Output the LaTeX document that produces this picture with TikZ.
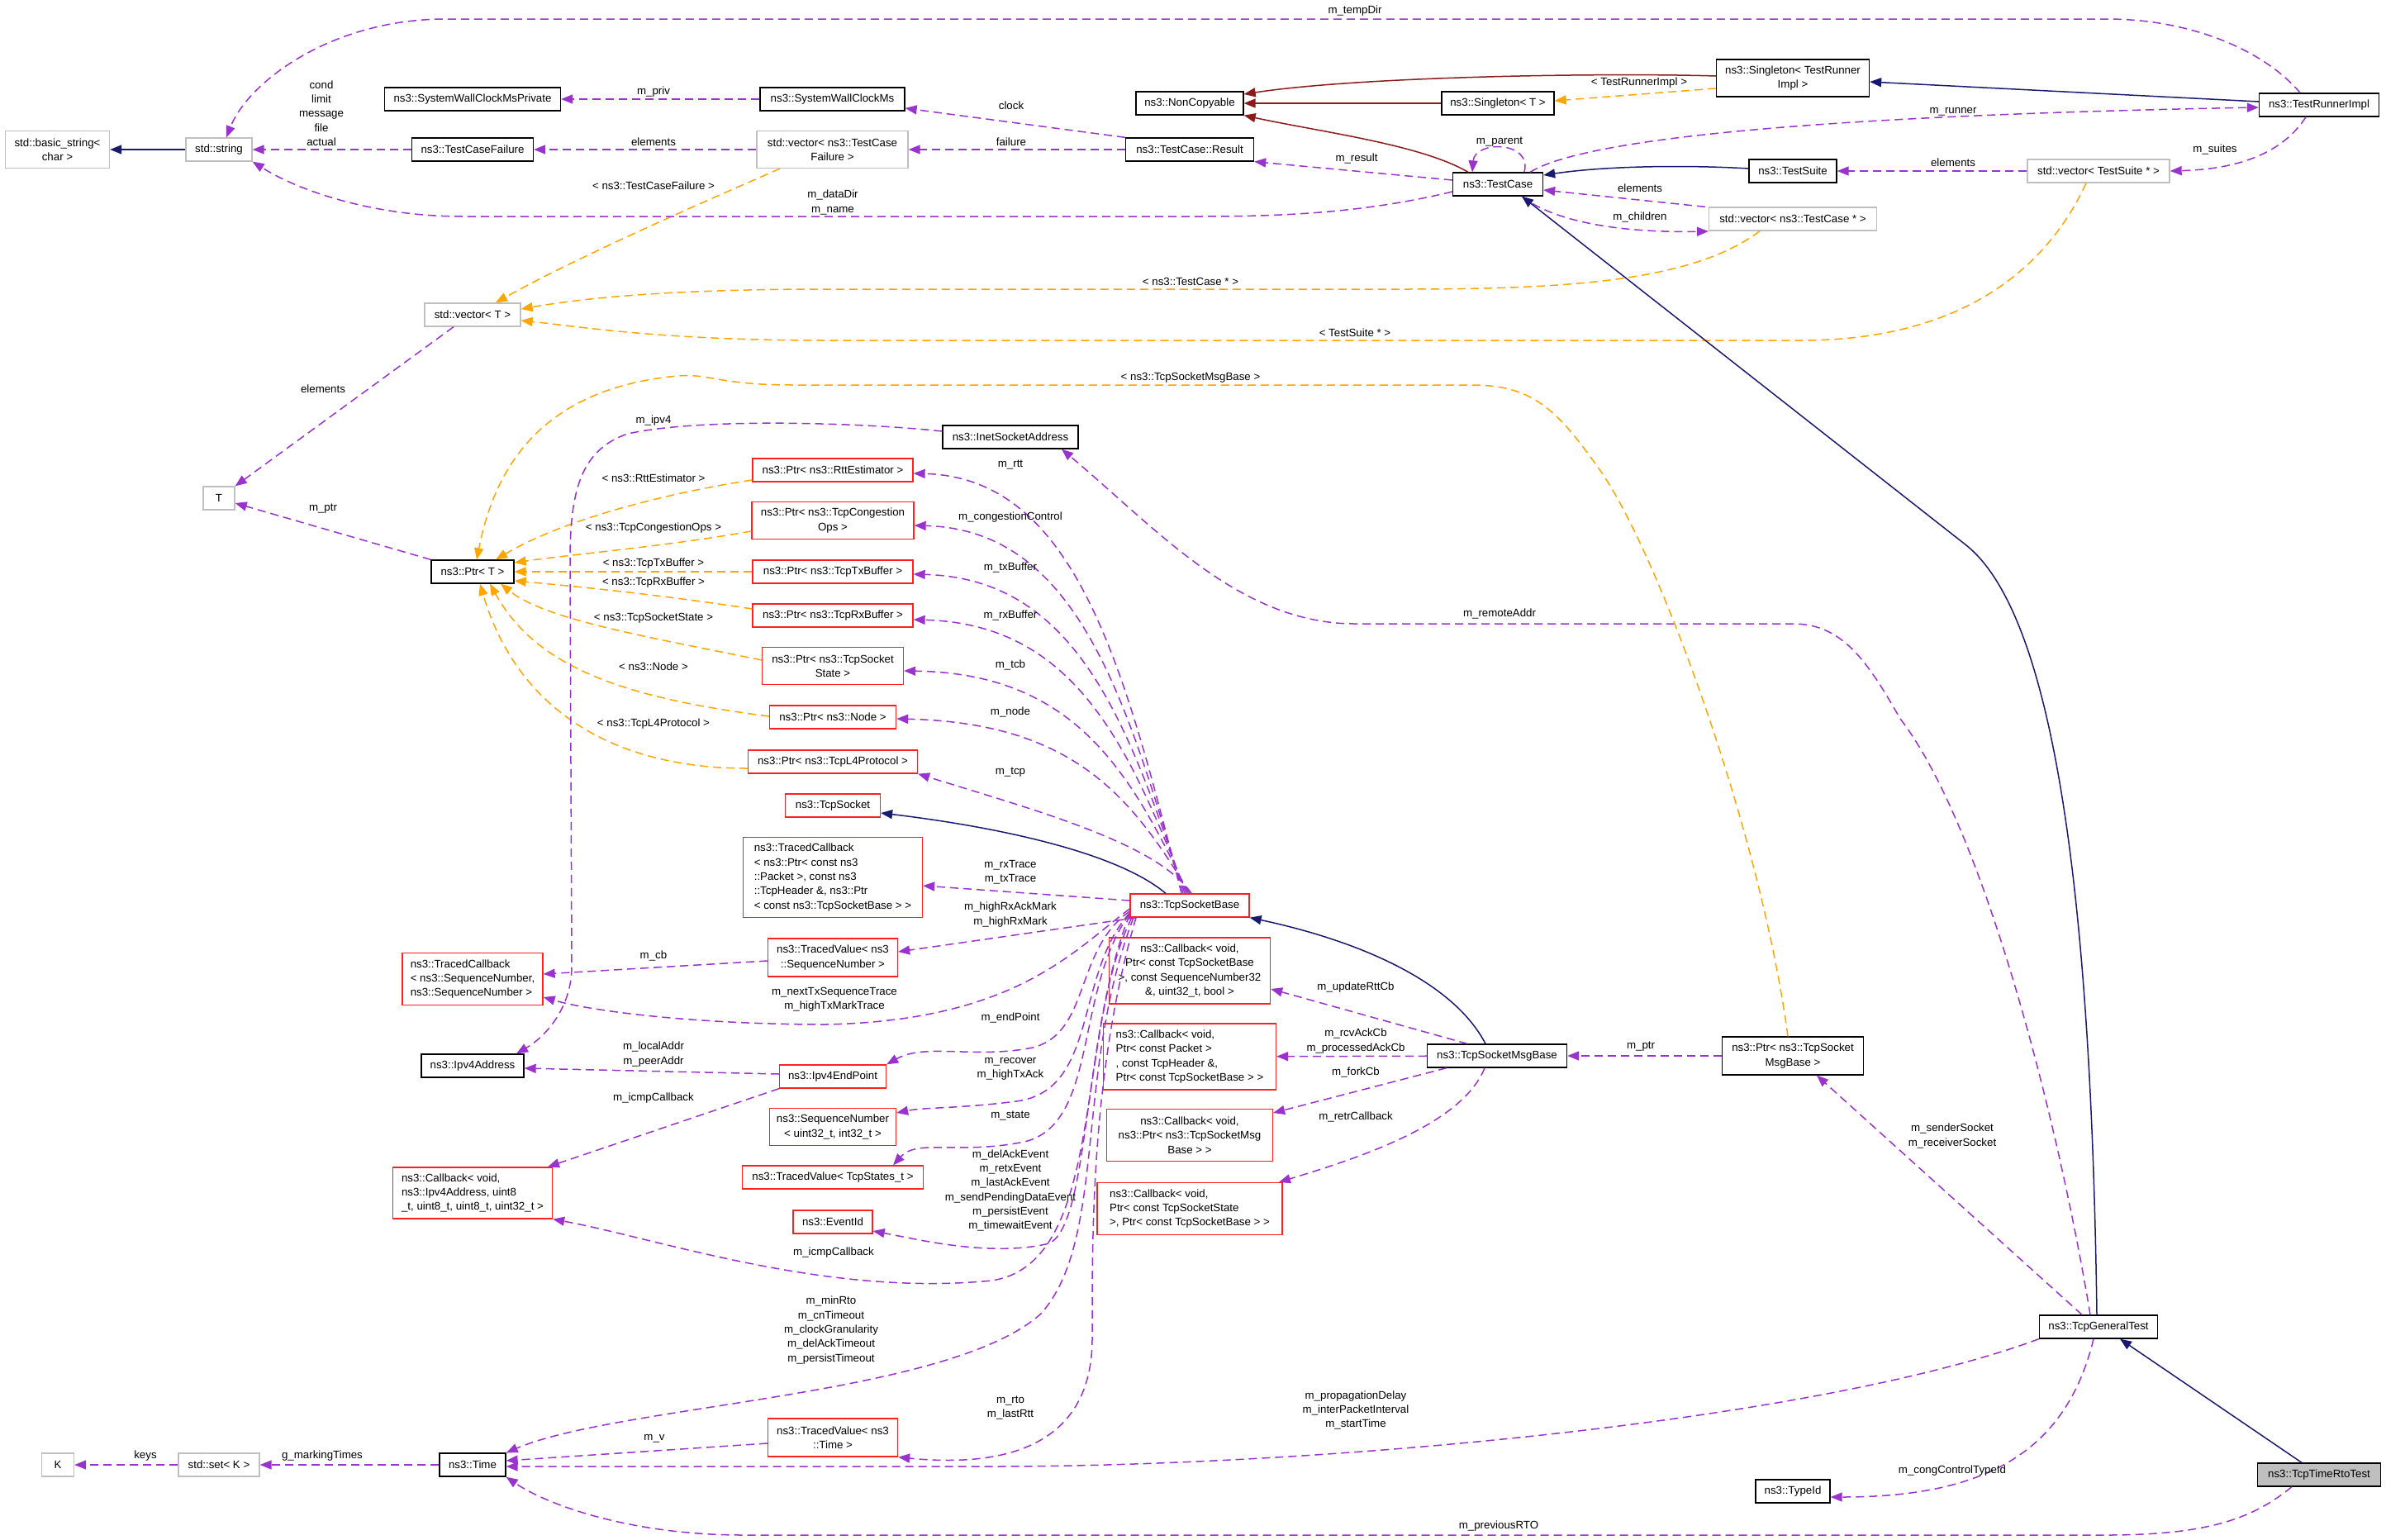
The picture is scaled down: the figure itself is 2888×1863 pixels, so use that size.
\documentclass[tikz,border=0pt]{standalone}
\usepackage{fontspec}
\setmainfont{Liberation Sans}
\usetikzlibrary{arrows.meta}
\definecolor{purp}{HTML}{9A32CD}
\definecolor{orng}{HTML}{FFA500}
\definecolor{mblue}{HTML}{191970}
\definecolor{fbrick}{HTML}{8B1A1A}
\definecolor{gbord}{HTML}{BFBFBF}
\definecolor{rbord}{HTML}{FF2020}
\begin{document}
\begin{tikzpicture}[x=1pt,y=-1pt,font=\fontsize{13.3pt}{17.3pt}\selectfont,
  box/.style={draw, fill=white, line width=1.3pt, inner sep=2pt, align=center},
  blk/.style={box, draw=black},
  gry/.style={box, draw=gbord},
  rd/.style={box, draw=rbord},
  lbl/.style={inner sep=0pt, align=center},
  tip/.style={-{Triangle[length=14pt,width=11pt]}},
  pe/.style={draw=purp, line width=1.5pt, dash pattern=on 10pt off 6pt, tip},
  oe/.style={draw=orng, line width=1.5pt, dash pattern=on 10pt off 6pt, tip},
  be/.style={draw=mblue, line width=1.5pt, tip},
  re/.style={draw=fbrick, line width=1.5pt, tip}]
\useasboundingbox (0,0) rectangle (2888,1863);
\fill[white] (0,0) rectangle (2888,1863);

% ---------- nodes ----------
\node[gry, minimum width=126pt, minimum height=45pt] (n_bs) at (69.5,181) {std::basic\_string\textless\\char \textgreater};
\node[gry, minimum width=80pt, minimum height=28pt] (n_str) at (265,181) {std::string};
\node[blk, minimum width=213pt, minimum height=28pt] (n_swcp) at (572,120) {ns3::SystemWallClockMsPrivate};
\node[blk, minimum width=147pt, minimum height=28pt] (n_tcf) at (572,181) {ns3::TestCaseFailure};
\node[gry, minimum width=183pt, minimum height=45pt] (n_vtcf) at (1007.5,181) {std::vector\textless{} ns3::TestCase\\Failure \textgreater};
\node[blk, minimum width=175pt, minimum height=28pt] (n_swc) at (1007.5,120) {ns3::SystemWallClockMs};
\node[blk, minimum width=130pt, minimum height=28pt] (n_nc) at (1440,125) {ns3::NonCopyable};
\node[blk, minimum width=136pt, minimum height=28pt] (n_sgt) at (1813,125) {ns3::Singleton\textless{} T \textgreater};
\node[blk, minimum width=155pt, minimum height=28pt] (n_res) at (1440,181) {ns3::TestCase::Result};
\node[blk, minimum width=109pt, minimum height=28pt] (n_tc) at (1813,223) {ns3::TestCase};
\node[blk, minimum width=185pt, minimum height=45pt] (n_sgtr) at (2170,94.5) {ns3::Singleton\textless{} TestRunner\\Impl \textgreater};
\node[blk, minimum width=145pt, minimum height=28pt] (n_tri) at (2807,127) {ns3::TestRunnerImpl};
\node[blk, minimum width=106pt, minimum height=28pt] (n_ts) at (2170,207) {ns3::TestSuite};
\node[gry, minimum width=172pt, minimum height=28pt] (n_vts) at (2540,207) {std::vector\textless{} TestSuite * \textgreater};
\node[gry, minimum width=203pt, minimum height=28pt] (n_vtc) at (2170,265) {std::vector\textless{} ns3::TestCase * \textgreater};
\node[gry, minimum width=116pt, minimum height=28pt] (n_vt) at (572,381) {std::vector\textless{} T \textgreater};
\node[gry, minimum width=38pt, minimum height=28pt] (n_T) at (265,603) {T};
\node[blk, minimum width=100pt, minimum height=28pt] (n_ptrT) at (572,692) {ns3::Ptr\textless{} T \textgreater};
\node[blk, minimum width=164pt, minimum height=28pt] (n_inet) at (1223,529) {ns3::InetSocketAddress};
\node[rd, minimum width=194pt, minimum height=28pt] (n_prtt) at (1008,569) {ns3::Ptr\textless{} ns3::RttEstimator \textgreater};
\node[rd, minimum width=196pt, minimum height=45pt] (n_pcong) at (1008,630) {ns3::Ptr\textless{} ns3::TcpCongestion\\Ops \textgreater};
\node[rd, minimum width=194pt, minimum height=28pt] (n_ptx) at (1008,692) {ns3::Ptr\textless{} ns3::TcpTxBuffer \textgreater};
\node[rd, minimum width=194pt, minimum height=28pt] (n_prx) at (1008,745) {ns3::Ptr\textless{} ns3::TcpRxBuffer \textgreater};
\node[rd, minimum width=171pt, minimum height=45pt] (n_ptcb) at (1008,806) {ns3::Ptr\textless{} ns3::TcpSocket\\State \textgreater};
\node[rd, minimum width=153pt, minimum height=28pt] (n_pnode) at (1008,868) {ns3::Ptr\textless{} ns3::Node \textgreater};
\node[rd, minimum width=205pt, minimum height=28pt] (n_pl4) at (1008,922) {ns3::Ptr\textless{} ns3::TcpL4Protocol \textgreater};
\node[rd, minimum width=115pt, minimum height=28pt] (n_tsock) at (1008,975) {ns3::TcpSocket};
\node[rd, minimum width=217pt, minimum height=97pt, align=left] (n_tcbk) at (1008,1062) {ns3::TracedCallback\\\textless{} ns3::Ptr\textless{} const ns3\\::Packet \textgreater, const ns3\\::TcpHeader \&, ns3::Ptr\\\textless{} const ns3::TcpSocketBase \textgreater{} \textgreater};
\node[rd, minimum width=144pt, minimum height=28pt] (n_tsb) at (1440,1096) {ns3::TcpSocketBase};
\node[rd, minimum width=157pt, minimum height=46pt] (n_tvsn) at (1008,1159) {ns3::TracedValue\textless{} ns3\\::SequenceNumber \textgreater};
\node[rd, minimum width=170pt, minimum height=63pt, align=left] (n_tcsn) at (572,1185) {ns3::TracedCallback\\\textless{} ns3::SequenceNumber,\\ ns3::SequenceNumber \textgreater};
\node[rd, minimum width=195pt, minimum height=80pt] (n_cbrtt) at (1440,1175) {ns3::Callback\textless{} void,\\ Ptr\textless{} const TcpSocketBase\\ \textgreater, const SequenceNumber32\\\&, uint32\_t, bool \textgreater};
\node[blk, minimum width=124pt, minimum height=28pt] (n_ipv4) at (572,1290) {ns3::Ipv4Address};
\node[rd, minimum width=129pt, minimum height=28pt] (n_ep) at (1008,1303) {ns3::Ipv4EndPoint};
\node[rd, minimum width=209pt, minimum height=80pt, align=left] (n_cback) at (1440,1279) {ns3::Callback\textless{} void,\\ Ptr\textless{} const Packet \textgreater\\, const TcpHeader \&,\\ Ptr\textless{} const TcpSocketBase \textgreater{} \textgreater};
\node[blk, minimum width=169pt, minimum height=28pt] (n_tsmb) at (1812,1278) {ns3::TcpSocketMsgBase};
\node[blk, minimum width=171pt, minimum height=46pt] (n_pmsg) at (2170,1278) {ns3::Ptr\textless{} ns3::TcpSocket\\MsgBase \textgreater};
\node[rd, minimum width=153pt, minimum height=45pt] (n_seq) at (1008,1364) {ns3::SequenceNumber\\\textless{} uint32\_t, int32\_t \textgreater};
\node[rd, minimum width=201pt, minimum height=63pt] (n_cbfork) at (1440,1374) {ns3::Callback\textless{} void,\\ ns3::Ptr\textless{} ns3::TcpSocketMsg\\Base \textgreater{} \textgreater};
\node[rd, minimum width=193pt, minimum height=62pt, align=left] (n_cbicmp) at (572,1444) {ns3::Callback\textless{} void,\\ ns3::Ipv4Address, uint8\\\_t, uint8\_t, uint8\_t, uint32\_t \textgreater};
\node[rd, minimum width=219pt, minimum height=28pt] (n_tvst) at (1008,1425) {ns3::TracedValue\textless{} TcpStates\_t \textgreater};
\node[rd, minimum width=224pt, minimum height=63pt, align=left] (n_cbretr) at (1440,1463) {ns3::Callback\textless{} void,\\ Ptr\textless{} const TcpSocketState\\ \textgreater, Ptr\textless{} const TcpSocketBase \textgreater{} \textgreater};
\node[rd, minimum width=96pt, minimum height=28pt] (n_evt) at (1008,1479) {ns3::EventId};
\node[rd, minimum width=157pt, minimum height=46pt] (n_tvtime) at (1008,1740) {ns3::TracedValue\textless{} ns3\\::Time \textgreater};
\node[blk, minimum width=80pt, minimum height=28pt] (n_time) at (572,1773) {ns3::Time};
\node[gry, minimum width=98pt, minimum height=28pt] (n_set) at (265,1773) {std::set\textless{} K \textgreater};
\node[gry, minimum width=39pt, minimum height=28pt] (n_K) at (70,1773) {K};
\node[blk, minimum width=143pt, minimum height=28pt] (n_gt) at (2540,1606) {ns3::TcpGeneralTest};
\node[blk, minimum width=90pt, minimum height=28pt] (n_tid) at (2170,1805) {ns3::TypeId};
\node[blk, fill=gbord, minimum width=149pt, minimum height=28pt] (n_rto) at (2807,1785) {ns3::TcpTimeRtoTest};

% ---------- edges ----------
\draw[be] (n_str) -- (n_bs);
\draw[pe] (n_tcf) -- (n_str);
\draw[pe] (n_swc) -- (n_swcp);
\draw[pe] (n_vtcf) -- (n_tcf);
\draw[oe] (944,0 |- n_vtcf.south) .. controls (880,232) and (700,310) .. (600,0 |- n_vt.north);
\draw[pe] (n_tc.west |- 0,232) .. controls (1650,258) and (1550,262) .. (1450,262) -- (560,262) .. controls (450,262) and (360,230) .. (n_str.south east);
\draw[pe] (2784,0 |- n_tri.north) .. controls (2740,60) and (2650,23) .. (2550,23) -- (540,23) .. controls (400,23) and (300,100) .. (274,0 |- n_str.north);
\draw[pe] (n_res.north west) -- (n_swc.east |- 0,131);
\draw[pe] (n_res) -- (n_vtcf);
\draw[pe] (n_tc.west |- 0,218) -- (n_res.south east);
\draw[re] (1777,0 |- n_tc.north) .. controls (1720,175) and (1600,160) .. (n_nc.south east);
\draw[re] (n_sgt) -- (n_nc);
\draw[re] (n_sgtr.west |- 0,92) .. controls (1950,88) and (1650,92) .. (n_nc.east |- 0,114);
\draw[oe] (n_sgtr.west |- 0,107) -- (n_sgt.east |- 0,122);
\draw[be] (n_tri.west |- 0,123) -- (n_sgtr.east |- 0,99);
\draw[pe] (1852,0 |- n_tc.north) .. controls (1930,160) and (2300,138) .. (n_tri.west |- 0,130);
\draw[pe] (1845,0 |- n_tc.north) .. controls (1855,170) and (1785,170) .. (1782,0 |- n_tc.north);
\draw[be] (n_ts.west |- 0,204) .. controls (2050,200) and (1950,200) .. (n_tc.east |- 0,212);
\draw[pe] (n_vts) -- (n_ts);
\draw[pe] (2791,0 |- n_tri.south) .. controls (2760,190) and (2700,205) .. (n_vts.east);
\draw[pe] (2064,0 |- n_vtc.north) -- (n_tc.east |- 0,230);
\draw[pe] (1842,0 |- n_tc.south) .. controls (1880,268) and (1960,282) .. (n_vtc.west |- 0,280);
\draw[oe] (2130,0 |- n_vtc.south) .. controls (2050,340) and (1900,350) .. (1700,350) -- (1000,350) .. controls (800,350) and (700,362) .. (n_vt.east |- 0,374);
\draw[oe] (2525,0 |- n_vts.south) .. controls (2480,320) and (2380,412) .. (2180,412) -- (1000,412) .. controls (800,412) and (700,395) .. (n_vt.east |- 0,388);
\draw[pe] (549,0 |- n_vt.south) -- (n_T.north east);
\draw[pe] (n_ptrT.north west) -- (n_T.east |- 0,609);
\draw[be] (2538,0 |- n_gt.north) .. controls (2532,1150) and (2497,754) .. (2380,660) -- (1842,0 |- n_tc.south);
\draw[be] (2786,0 |- n_rto.north) -- (2566,0 |- n_gt.south);
\draw[pe] (2774,0 |- n_rto.south) .. controls (2730,1835) and (2680,1858) .. (2550,1858) -- (900,1858) .. controls (760,1858) and (660,1820) .. (n_time.south east);
\draw[pe] (2534,0 |- n_gt.south) .. controls (2500,1760) and (2400,1812) .. (n_tid.east |- 0,1812);
\draw[pe] (2520,0 |- n_gt.north) -- (2199,0 |- n_pmsg.south);
\draw[pe] (2530,0 |- n_gt.north) .. controls (2490,1350) and (2400,1000) .. (2300,870) .. controls (2260,800) and (2230,755) .. (2170,755) -- (1640,755) .. controls (1500,755) and (1400,640) .. (1285,0 |- n_inet.south);
\draw[oe] (2164,0 |- n_pmsg.north) .. controls (2130,1000) and (2000,650) .. (1930,560) .. controls (1880,490) and (1850,466) .. (1780,466) -- (960,466) .. controls (870,466) and (860,452) .. (820,455) .. controls (660,470) and (600,560) .. (577,0 |- n_ptrT.north);
% template instances of Ptr<T>
\draw[oe] (n_prtt.west |- 0,581) .. controls (800,598) and (680,630) .. (600,0 |- n_ptrT.north);
\draw[oe] (n_pcong.west |- 0,643) .. controls (800,662) and (700,670) .. (n_ptrT.east |- 0,681);
\draw[oe] (n_ptx.west) -- (n_ptrT.east);
\draw[oe] (n_prx.west |- 0,737) .. controls (800,720) and (700,710) .. (n_ptrT.east |- 0,703);
\draw[oe] (n_ptcb.west |- 0,799) .. controls (780,770) and (660,750) .. (606,0 |- n_ptrT.south);
\draw[oe] (n_pnode.west |- 0,867) .. controls (760,845) and (650,810) .. (593,0 |- n_ptrT.south);
\draw[oe] (n_pl4.west |- 0,930) .. controls (720,930) and (620,840) .. (581,0 |- n_ptrT.south);
\draw[be] (1798,0 |- n_tsmb.north) .. controls (1760,1190) and (1650,1140) .. (n_tsb.south east);
\draw[pe] (n_pmsg) -- (n_tsmb);
\draw[pe] (1776,0 |- n_tsmb.north) -- (n_cbrtt.east |- 0,1197);
\draw[pe] (n_tsmb) -- (n_cback);
\draw[pe] (1751,0 |- n_tsmb.south) -- (n_cbfork.east |- 0,1347);
\draw[pe] (1797,0 |- n_tsmb.south) .. controls (1770,1360) and (1650,1400) .. (1548,0 |- n_cbretr.north);
\draw[be] (1411,0 |- n_tsb.north) .. controls (1350,1030) and (1200,1000) .. (n_tsock.east |- 0,984);
\draw[pe] (n_inet.west |- 0,522) .. controls (1050,512) and (850,505) .. (760,525) .. controls (700,545) and (690,600) .. (690,680) -- (692,1170) .. controls (692,1220) and (660,1255) .. (625,0 |- n_ipv4.north);
% bundle from TcpSocketBase top
\draw[pe] (1430,0 |- n_tsb.north) .. controls (1360,802) and (1300,578) .. (n_prtt.east |- 0,573);
\draw[pe] (1432,0 |- n_tsb.north) .. controls (1362,837) and (1300,641) .. (n_pcong.east |- 0,636);
\draw[pe] (1434,0 |- n_tsb.north) .. controls (1364,869) and (1300,700) .. (n_ptx.east |- 0,695);
\draw[pe] (1436,0 |- n_tsb.north) .. controls (1366,901) and (1300,755) .. (n_prx.east |- 0,750);
\draw[pe] (1438,0 |- n_tsb.north) .. controls (1368,933) and (1300,815) .. (n_ptcb.east |- 0,812);
\draw[pe] (1440,0 |- n_tsb.north) .. controls (1370,965) and (1300,875) .. (n_pnode.east |- 0,870);
\draw[pe] (1442,0 |- n_tsb.north) .. controls (1400,1020) and (1250,980) .. (n_pl4.south east);
% from TcpSocketBase left / bottom
\draw[pe] (n_tsb.west |- 0,1090) -- (n_tcbk.east |- 0,1072);
\draw[pe] (1376,0 |- n_tsb.south) -- (n_tvsn.east |- 0,1152);
\draw[pe] (n_tsb.west |- 0,1100) .. controls (1300,1150) and (1230,1235) .. (1000,1240) .. controls (850,1240) and (720,1225) .. (n_tcsn.east |- 0,1207);
\draw[pe] (n_tvsn.west |- 0,1163) -- (n_tcsn.east |- 0,1179);
\draw[pe] (n_tsb.west |- 0,1103) .. controls (1300,1150) and (1320,1250) .. (1250,1268) .. controls (1180,1282) and (1120,1262) .. (n_ep.north east);
\draw[pe] (n_ep.west |- 0,1300) -- (n_ipv4.east |- 0,1293);
\draw[pe] (n_ep.south west) -- (663,0 |- n_cbicmp.north);
\draw[pe] (n_tsb.west |- 0,1105) .. controls (1300,1180) and (1330,1320) .. (1230,1333) .. controls (1160,1342) and (1120,1340) .. (n_seq.east |- 0,1347);
\draw[pe] (n_tsb.west |- 0,1106) .. controls (1300,1200) and (1330,1360) .. (1240,1382) .. controls (1160,1398) and (1110,1378) .. (1081,0 |- n_tvst.north);
\draw[pe] (n_tsb.west |- 0,1107) .. controls (1310,1250) and (1320,1480) .. (1270,1505) .. controls (1200,1522) and (1110,1500) .. (n_evt.east |- 0,1490);
\draw[pe] (1370,0 |- n_tsb.south) .. controls (1300,1250) and (1340,1530) .. (1200,1550) .. controls (1000,1570) and (800,1500) .. (n_cbicmp.south east);
\draw[pe] (1372,0 |- n_tsb.south) .. controls (1300,1300) and (1340,1500) .. (1260,1590) .. controls (1150,1690) and (750,1700) .. (n_time.north east);
\draw[pe] (1375,0 |- n_tsb.south) .. controls (1320,1300) and (1322,1500) .. (1322,1620) .. controls (1322,1760) and (1200,1775) .. (n_tvtime.south east);
\draw[pe] (n_tvtime.west |- 0,1747) -- (n_time.east |- 0,1768);
\draw[pe] (n_gt.south west) .. controls (2200,1720) and (1600,1775) .. (1200,1775) -- (n_time.east |- 0,1775);
\draw[pe] (n_time) -- (n_set);
\draw[pe] (n_set) -- (n_K);

% ---------- labels ----------
\node[lbl] (l1) at (389,137) {cond\\limit\\message\\file\\actual};
\node[lbl] (l2) at (791,111) {m\_priv};
\node[lbl] (l3) at (791,172) {elements};
\node[lbl] (l4) at (791,225) {\textless{} ns3::TestCaseFailure \textgreater};
\node[lbl] (l5) at (1640,13) {m\_tempDir};
\node[lbl] (l6) at (1224,128) {clock};
\node[lbl] (l7) at (1224,172) {failure};
\node[lbl] (l8) at (1642,192) {m\_result};
\node[lbl] (l9) at (1815,172) {m\_parent};
\node[lbl] (l10) at (1008,245) {m\_dataDir\\m\_name};
\node[lbl] (l11) at (1441,341) {\textless{} ns3::TestCase * \textgreater};
\node[lbl] (l12) at (1640,403) {\textless{} TestSuite * \textgreater};
\node[lbl] (l13) at (1441,457) {\textless{} ns3::TcpSocketMsgBase \textgreater};
\node[lbl] (l14) at (1984,100) {\textless{} TestRunnerImpl \textgreater};
\node[lbl] (l15) at (2364,135) {m\_runner};
\node[lbl] (l16) at (2681,181) {m\_suites};
\node[lbl] (l17) at (2364,197) {elements};
\node[lbl] (l18) at (1985,228) {elements};
\node[lbl] (l19) at (1985,263) {m\_children};
\node[lbl] (l20) at (391,471) {elements};
\node[lbl] (l21) at (391,616) {m\_ptr};
\node[lbl] (l22) at (791,509) {m\_ipv4};
\node[lbl] (l23) at (791,579) {\textless{} ns3::RttEstimator \textgreater};
\node[lbl] (l24) at (791,639) {\textless{} ns3::TcpCongestionOps \textgreater};
\node[lbl] (l25) at (791,682) {\textless{} ns3::TcpTxBuffer \textgreater};
\node[lbl] (l26) at (791,705) {\textless{} ns3::TcpRxBuffer \textgreater};
\node[lbl] (l27) at (791,748) {\textless{} ns3::TcpSocketState \textgreater};
\node[lbl] (l28) at (791,807) {\textless{} ns3::Node \textgreater};
\node[lbl] (l29) at (791,876) {\textless{} ns3::TcpL4Protocol \textgreater};
\node[lbl] (l30) at (1223,563) {m\_rtt};
\node[lbl] (l31) at (1223,626) {m\_congestionControl};
\node[lbl] (l32) at (1223,687) {m\_txBuffer};
\node[lbl] (l33) at (1223,745) {m\_rxBuffer};
\node[lbl] (l34) at (1223,805) {m\_tcb};
\node[lbl] (l35) at (1223,862) {m\_node};
\node[lbl] (l36) at (1223,935) {m\_tcp};
\node[lbl] (l37) at (1815,743) {m\_remoteAddr};
\node[lbl] (l38) at (791,1157) {m\_cb};
\node[lbl] (l39) at (1010,1210) {m\_nextTxSequenceTrace\\m\_highTxMarkTrace};
\node[lbl] (l40) at (791,1276) {m\_localAddr\\m\_peerAddr};
\node[lbl] (l41) at (791,1329) {m\_icmpCallback};
\node[lbl] (l42) at (1223,1056) {m\_rxTrace\\m\_txTrace};
\node[lbl] (l43) at (1223,1107) {m\_highRxAckMark\\m\_highRxMark};
\node[lbl] (l44) at (1223,1232) {m\_endPoint};
\node[lbl] (l45) at (1223,1294) {m\_recover\\m\_highTxAck};
\node[lbl] (l46) at (1223,1351) {m\_state};
\node[lbl] (l47) at (1223,1441) {m\_delAckEvent\\m\_retxEvent\\m\_lastAckEvent\\m\_sendPendingDataEvent\\m\_persistEvent\\m\_timewaitEvent};
\node[lbl] (l48) at (1641,1195) {m\_updateRttCb};
\node[lbl] (l49) at (1641,1260) {m\_rcvAckCb\\m\_processedAckCb};
\node[lbl] (l50) at (1641,1298) {m\_forkCb};
\node[lbl] (l51) at (1641,1352) {m\_retrCallback};
\node[lbl] (l52) at (176,1762) {keys};
\node[lbl] (l53) at (390,1762) {g\_markingTimes};
\node[lbl] (l54) at (1009,1516) {m\_icmpCallback};
\node[lbl] (l55) at (1006,1610) {m\_minRto\\m\_cnTimeout\\m\_clockGranularity\\m\_delAckTimeout\\m\_persistTimeout};
\node[lbl] (l56) at (792,1741) {m\_v};
\node[lbl] (l57) at (1223,1704) {m\_rto\\m\_lastRtt};
\node[lbl] (l58) at (1986,1267) {m\_ptr};
\node[lbl] (l59) at (2363,1375) {m\_senderSocket\\m\_receiverSocket};
\node[lbl] (l60) at (1641,1707) {m\_propagationDelay\\m\_interPacketInterval\\m\_startTime};
\node[lbl] (l61) at (2363,1780) {m\_congControlTypeId};
\node[lbl] (l62) at (1814,1847) {m\_previousRTO};
\end{tikzpicture}
\end{document}
